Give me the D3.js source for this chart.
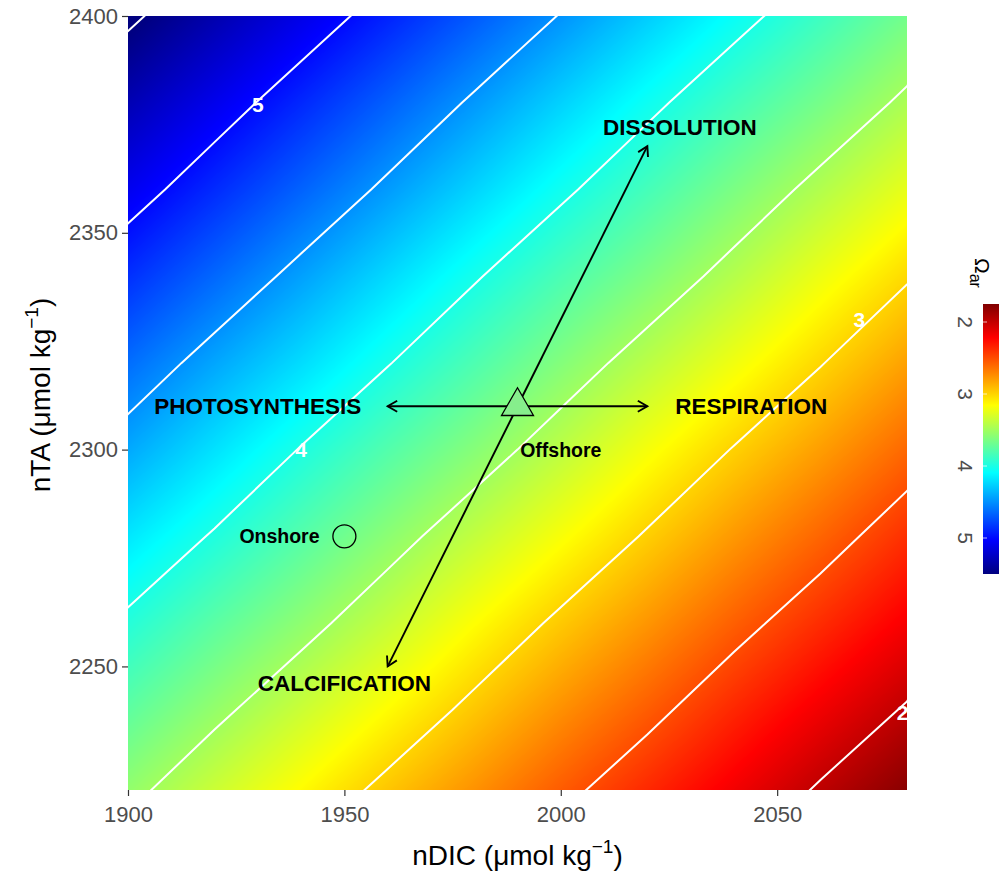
<!DOCTYPE html>
<html>
<head>
<meta charset="utf-8">
<script src="https://cdn.jsdelivr.net/npm/d3@7"></script>
<style>
  body { margin: 0; background: #ffffff; }
  svg { display: block; font-family: "Liberation Sans", Arial, sans-serif; }
</style>
</head>
<body>
<svg id="chart" width="999" height="871"></svg>
<script>
// ---- Data -------------------------------------------------------------
// Grid nodes: normalised DIC (columns) and normalised TA (rows, ascending)
const dicValues = [1900, 1920, 1940, 1960, 1980, 2000, 2020, 2040, 2060, 2080];
const taValues  = [2220, 2240, 2260, 2280, 2300, 2320, 2340, 2360, 2380, 2400];
// Aragonite saturation state at each node (one row per TA value)
const omegaRows = [
  [3.54, 3.33, 3.13, 2.93, 2.74, 2.54, 2.35, 2.16, 1.96, 1.77],
  [3.75, 3.55, 3.35, 3.15, 2.95, 2.75, 2.56, 2.36, 2.17, 1.98],
  [3.96, 3.76, 3.57, 3.37, 3.16, 2.96, 2.77, 2.57, 2.38, 2.19],
  [4.18, 3.98, 3.78, 3.58, 3.38, 3.18, 2.98, 2.78, 2.59, 2.39],
  [4.41, 4.20, 3.99, 3.79, 3.60, 3.40, 3.19, 2.99, 2.80, 2.60],
  [4.63, 4.42, 4.22, 4.01, 3.81, 3.61, 3.41, 3.21, 3.01, 2.81],
  [4.86, 4.65, 4.44, 4.23, 4.02, 3.82, 3.63, 3.43, 3.22, 3.02],
  [5.09, 4.88, 4.67, 4.46, 4.25, 4.04, 3.84, 3.64, 3.44, 3.24],
  [5.31, 5.10, 4.89, 4.68, 4.47, 4.26, 4.05, 3.85, 3.66, 3.46],
  [5.54, 5.33, 5.12, 4.91, 4.70, 4.49, 4.28, 4.07, 3.87, 3.67]
];
const contourLevels = [2, 2.5, 3, 3.5, 4, 4.5, 5, 5.5];
const contourLabelText = ["5", "4", "3", "2"];
const contourLabelDic  = [1930, 1940, 2069, 2079];
const contourLabelTa   = [2379.5, 2300, 2330, 2239.5];

const xTicks = [1900, 1950, 2000, 2050];
const yTicks = [2250, 2300, 2350, 2400];
const legendTicks = [2, 3, 4, 5];
const omegaRange = [1.75, 5.5];

// Sites
const offshore = { name: "Offshore", dic: 1990, ta: 2310, labelDic: 2000, labelTa: 2300 };
const onshore  = { name: "Onshore",  dic: 1950, ta: 2280, labelDic: 1935, labelTa: 2280 };

// Process vectors from the offshore point and their label positions
const processNames = ["PHOTOSYNTHESIS", "RESPIRATION", "DISSOLUTION", "CALCIFICATION"];
const processDDic  = [-30, 30, 30, -30];
const processDTa   = [0, 0, 60, -60];
const processLabelDic = [1930, 2044, 2027.5, 1950];
const processLabelTa  = [2310, 2310, 2374.5, 2246.3];

// Reversed "jet" palette
const jetColours = ["#7F0000", "#FF0000", "#FF7F00", "#FFFF00", "#7FFF7F",
                    "#00FFFF", "#007FFF", "#0000FF", "#00007F"];

// ---- Layout -----------------------------------------------------------
const plot = { left: 128, right: 907, top: 16, bottom: 790 };
const svg = d3.select("#chart");

const x = d3.scaleLinear().domain([1900, 2080]).range([plot.left, plot.right]);
const y = d3.scaleLinear().domain([2221.5, 2400]).range([plot.bottom, plot.top]);

const colourStops = jetColours.map((c, i) => omegaRange[0] + i * (omegaRange[1] - omegaRange[0]) / (jetColours.length - 1));
const colour = d3.scaleLinear().domain(colourStops).range(jetColours)
  .interpolate(d3.interpolateRgb).clamp(true);

// ---- Raster (bilinear between grid nodes) -----------------------------
const nx = dicValues.length, ny = taValues.length;
const dicStep = dicValues[1] - dicValues[0];
const taStep = taValues[1] - taValues[0];

function omegaAt(dic, ta) {
  let fx = (dic - dicValues[0]) / dicStep;
  let fy = (ta - taValues[0]) / taStep;
  fx = Math.max(0, Math.min(nx - 1, fx));
  fy = Math.max(0, Math.min(ny - 1, fy));
  const i0 = Math.min(nx - 2, Math.floor(fx)), j0 = Math.min(ny - 2, Math.floor(fy));
  const tx = fx - i0, ty = fy - j0;
  const a = omegaRows[j0][i0], b = omegaRows[j0][i0 + 1];
  const c = omegaRows[j0 + 1][i0], d = omegaRows[j0 + 1][i0 + 1];
  return (a * (1 - tx) + b * tx) * (1 - ty) + (c * (1 - tx) + d * tx) * ty;
}

// colour lookup table
const lutN = 1024;
const lutLo = omegaRange[0] - 0.3, lutSpan = omegaRange[1] - omegaRange[0] + 0.6;
const lut = d3.range(lutN).map(i => d3.rgb(colour(lutLo + i * lutSpan / (lutN - 1))));
function lutColour(v) {
  const t = (v - lutLo) / lutSpan;
  return lut[Math.max(0, Math.min(lutN - 1, Math.round(t * (lutN - 1))))];
}

const cw = plot.right - plot.left, ch = plot.bottom - plot.top;
const canvas = document.createElement("canvas");
canvas.width = cw; canvas.height = ch;
const ctx = canvas.getContext("2d");
const img = ctx.createImageData(cw, ch);
for (let py = 0; py < ch; py++) {
  const ta = y.invert(plot.top + py + 0.5);
  for (let px = 0; px < cw; px++) {
    const dic = x.invert(plot.left + px + 0.5);
    const c = lutColour(omegaAt(dic, ta));
    const k = (py * cw + px) * 4;
    img.data[k] = c.r; img.data[k + 1] = c.g; img.data[k + 2] = c.b; img.data[k + 3] = 255;
  }
}
ctx.putImageData(img, 0, 0);

svg.append("defs").append("clipPath").attr("id", "plot-clip")
  .append("rect").attr("x", plot.left).attr("y", plot.top).attr("width", cw).attr("height", ch);

svg.append("image")
  .attr("x", plot.left).attr("y", plot.top)
  .attr("width", cw).attr("height", ch)
  .attr("preserveAspectRatio", "none")
  .attr("href", canvas.toDataURL());

// ---- Contours ---------------------------------------------------------
const flat = omegaRows.flat();
const contourGen = d3.contours().size([nx, ny]).thresholds(contourLevels);
const gridPath = d3.geoPath(d3.geoTransform({
  point: function (cx, cy) {
    this.stream.point(x(dicValues[0] + (cx - 0.5) * dicStep), y(taValues[0] + (cy - 0.5) * taStep));
  }
}));

const gPlot = svg.append("g").attr("clip-path", "url(#plot-clip)");
gPlot.selectAll("path.contour")
  .data(contourGen(flat))
  .join("path")
  .attr("class", "contour")
  .attr("d", gridPath)
  .attr("fill", "none")
  .attr("stroke", "#ffffff")
  .attr("stroke-width", 2);

gPlot.selectAll("text.clabel")
  .data(contourLabelText)
  .join("text")
  .attr("class", "clabel")
  .attr("x", (d, i) => x(contourLabelDic[i]))
  .attr("y", (d, i) => y(contourLabelTa[i]))
  .attr("dy", "0.36em")
  .attr("text-anchor", "middle")
  .attr("font-size", 21)
  .attr("font-weight", "bold")
  .attr("fill", "#ffffff")
  .text(d => d);

// ---- Process arrows ---------------------------------------------------
function arrowHead(x1, y1, x2, y2, len, ang) {
  const a = Math.atan2(y2 - y1, x2 - x1);
  const p1 = [x2 - len * Math.cos(a - ang), y2 - len * Math.sin(a - ang)];
  const p2 = [x2 - len * Math.cos(a + ang), y2 - len * Math.sin(a + ang)];
  return `M${p1[0]},${p1[1]}L${x2},${y2}L${p2[0]},${p2[1]}`;
}

const gArrows = svg.append("g");
processNames.forEach((name, i) => {
  const x1 = x(offshore.dic), y1 = y(offshore.ta);
  const x2 = x(offshore.dic + processDDic[i]), y2 = y(offshore.ta + processDTa[i]);
  gArrows.append("line")
    .attr("x1", x1).attr("y1", y1).attr("x2", x2).attr("y2", y2)
    .attr("stroke", "#000").attr("stroke-width", 1.9);
  gArrows.append("path")
    .attr("d", arrowHead(x1, y1, x2, y2, 11, Math.PI / 6))
    .attr("fill", "none").attr("stroke", "#000").attr("stroke-width", 1.9)
    .attr("stroke-linejoin", "miter");
});

svg.append("g").selectAll("text")
  .data(processNames)
  .join("text")
  .attr("x", (d, i) => x(processLabelDic[i]))
  .attr("y", (d, i) => y(processLabelTa[i]))
  .attr("dy", "0.36em")
  .attr("text-anchor", "middle")
  .attr("font-size", 22.5)
  .attr("font-weight", "bold")
  .attr("fill", "#000")
  .text(d => d);

// ---- Sites ------------------------------------------------------------
svg.append("path")
  .attr("transform", `translate(${x(offshore.dic)},${y(offshore.ta)})`)
  .attr("d", d3.symbol(d3.symbolTriangle, 443)())
  .attr("fill", "#86ee8c")
  .attr("stroke", "#000")
  .attr("stroke-width", 1.3);

svg.append("circle")
  .attr("cx", x(onshore.dic)).attr("cy", y(onshore.ta))
  .attr("r", 11.5)
  .attr("fill", "none")
  .attr("stroke", "#000")
  .attr("stroke-width", 1.3);

svg.append("g").selectAll("text")
  .data([offshore, onshore])
  .join("text")
  .attr("x", d => x(d.labelDic))
  .attr("y", d => y(d.labelTa))
  .attr("dy", "0.36em")
  .attr("text-anchor", "middle")
  .attr("font-size", 19.5)
  .attr("font-weight", "bold")
  .attr("fill", "#000")
  .text(d => d.name);

// ---- Axes -------------------------------------------------------------
const axisX = svg.append("g")
  .attr("transform", `translate(0,${plot.bottom})`)
  .call(d3.axisBottom(x).tickValues(xTicks).tickSize(6).tickPadding(10).tickFormat(d3.format("d")));
const axisY = svg.append("g")
  .attr("transform", `translate(${plot.left},0)`)
  .call(d3.axisLeft(y).tickValues(yTicks).tickSize(6).tickPadding(4).tickFormat(d3.format("d")));
[axisX, axisY].forEach(g => {
  g.select(".domain").remove();
  g.selectAll(".tick line").attr("stroke", "#333333").attr("stroke-width", 1.2);
  g.selectAll(".tick text").attr("fill", "#4d4d4d").attr("font-size", 22)
    .attr("font-family", "'Liberation Sans', Arial, sans-serif");
});

// axis titles
const xTitle = svg.append("text")
  .attr("x", (plot.left + plot.right) / 2).attr("y", 865)
  .attr("text-anchor", "middle").attr("font-size", 28).attr("fill", "#000");
xTitle.append("tspan").text("nDIC (\u03bcmol kg");
xTitle.append("tspan").attr("font-size", 19).attr("dy", -12).text("\u22121");
xTitle.append("tspan").attr("dy", 12).text(")");

const yTitle = svg.append("text")
  .attr("transform", `translate(50,${(plot.top + plot.bottom) / 2 - 8}) rotate(-90)`)
  .attr("text-anchor", "middle").attr("font-size", 28).attr("fill", "#000");
yTitle.append("tspan").text("nTA (\u03bcmol kg");
yTitle.append("tspan").attr("font-size", 19).attr("dy", -12).text("\u22121");
yTitle.append("tspan").attr("dy", 12).text(")");

// ---- Colour bar legend ------------------------------------------------
const barTop = 304, barBottom = 574, barLeft = 983, barWidth = 30;
const ly = d3.scaleLinear().domain(omegaRange).range([barTop, barBottom]);
const grad = svg.select("defs").append("linearGradient")
  .attr("id", "omega-grad").attr("x1", 0).attr("y1", 0).attr("x2", 0).attr("y2", 1);
grad.selectAll("stop")
  .data(colourStops)
  .join("stop")
  .attr("offset", d => (ly(d) - barTop) / (barBottom - barTop))
  .attr("stop-color", d => colour(d));
svg.append("rect")
  .attr("x", barLeft).attr("y", barTop)
  .attr("width", barWidth).attr("height", barBottom - barTop)
  .attr("fill", "url(#omega-grad)");
svg.append("g").selectAll("line")
  .data(legendTicks)
  .join("line")
  .attr("x1", barLeft).attr("x2", barLeft + 4)
  .attr("y1", d => ly(d)).attr("y2", d => ly(d))
  .attr("stroke", "#ffffff").attr("stroke-opacity", 0.7).attr("stroke-width", 1);
svg.append("g").selectAll("text")
  .data(legendTicks)
  .join("text")
  .attr("transform", d => `translate(958,${ly(d)}) rotate(90)`)
  .attr("text-anchor", "middle")
  .attr("font-size", 21)
  .attr("fill", "#4d4d4d")
  .text(d => d);

const legTitle = svg.append("text")
  .attr("transform", "translate(975,258) rotate(90)")
  .attr("font-size", 21).attr("fill", "#000");
legTitle.append("tspan").text("\u03a9");
legTitle.append("tspan").attr("font-size", 16).attr("dy", 5).text("ar");
</script>
</body>
</html>
